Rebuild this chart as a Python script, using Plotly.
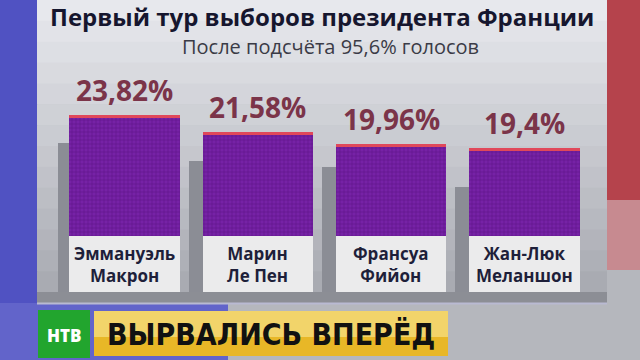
import plotly.graph_objects as go

# ---- data ----
candidates = ["Эммануэль<br>Макрон", "Марин<br>Ле Пен", "Франсуа<br>Фийон", "Жан-Люк<br>Меланшон"]
percent = [23.82, 21.58, 19.96, 19.4]
shadow_values = [20.1, 17.6, 16.8, 14.1]
title_text = "Первый тур выборов президента Франции"
subtitle_text = "После подсчёта 95,6% голосов"
banner_text = "ВЫРВАЛИСЬ ВПЕРЁД"
logo_text = "НТВ"

# ---- layout constants ----
W_FIG, H_FIG = 640, 360
L, R, T, B = 58, 591, 70, 292
PW, PH = R - L, B - T
Y_MAX = 29.9
LABEL_BOX = 7.5
RED_TOP = 0.42
BAR_W = 0.83
SHADOW_SHIFT = 0.105
FONT = "Open Sans"


def fx(x):
    return (x - L) / PW


def fy(y):
    return (B - y) / PH


def rect(x0, y0, x1, y1, color):
    return dict(type="rect", xref="paper", yref="paper",
                x0=fx(x0), x1=fx(x1), y0=fy(y1), y1=fy(y0),
                fillcolor=color, line=dict(width=0), layer="below")


def lerp(c1, c2, t):
    a = [int(c1[i:i + 2], 16) for i in (1, 3, 5)]
    b = [int(c2[i:i + 2], 16) for i in (1, 3, 5)]
    return "#" + "".join(f"{round(a[k] + (b[k] - a[k]) * t):02x}" for k in range(3))


shapes = []
# blurred flag background
shapes.append(rect(0, 0, 38, 305, "#5052c2"))
shapes.append(rect(0, 303, 228, 360, "#6264ca"))
shapes.append(rect(607, 0, 640, 200, "#b5434c"))
shapes.append(rect(607, 200, 640, 270, "#c78a90"))
# panel gradient
n = 14
for i in range(n):
    y0 = 292 * i / n
    y1 = 292 * (i + 1) / n
    shapes.append(rect(37, y0, 607, y1 + 0.5, lerp("#e7e8ed", "#a9abb2", i / (n - 1))))
shapes.append(rect(37, 292, 607, 303, "#8c8e95"))
shapes.append(rect(37, 302.5, 607, 304.5, "#b9bad2"))
# logo and banner
shapes.append(rect(38, 310, 90, 358, "#22a52e"))
shapes.append(rect(94, 311, 448, 356, "#f2d46a"))
shapes.append(rect(94, 337, 448, 356, "#e8b727"))

fig = go.Figure()

fig.add_trace(go.Bar(
    x=candidates, y=shadow_values, width=BAR_W, offset=-BAR_W / 2 - SHADOW_SHIFT,
    marker=dict(color="#8b8d95", line=dict(width=0)), hoverinfo="skip", showlegend=False))

fig.add_trace(go.Bar(
    x=candidates, y=percent, width=BAR_W, offset=-BAR_W / 2,
    marker=dict(color="#7421a4", line=dict(width=0),
                pattern=dict(shape="+", size=4, solidity=0.3, fgcolor="#5d158a",
                             bgcolor="#7622a6", fillmode="replace")),
    hoverinfo="skip", showlegend=False))

fig.add_trace(go.Bar(
    x=candidates, y=[RED_TOP] * len(percent), base=[v - RED_TOP for v in percent],
    width=BAR_W, offset=-BAR_W / 2,
    marker=dict(color="#e0485a", line=dict(width=0)), hoverinfo="skip", showlegend=False))

fig.add_trace(go.Bar(
    x=candidates, y=[LABEL_BOX] * len(percent), width=BAR_W, offset=-BAR_W / 2,
    marker=dict(color="#ebebec", line=dict(width=0)), hoverinfo="skip", showlegend=False))

annotations = []
for c, v in zip(candidates, percent):
    annotations.append(dict(
        x=c, y=v, xref="x", yref="y", text=str(v).replace(".", ",") + "%",
        showarrow=False, yanchor="bottom", yshift=4,
        font=dict(family=FONT, size=28, weight=700, color="#7b3449")))
    annotations.append(dict(
        x=c, y=LABEL_BOX / 2, xref="x", yref="y", text=c,
        showarrow=False, yanchor="middle",
        font=dict(family=FONT, size=17, weight=700, color="#1e1f3a")))

annotations.append(dict(
    x=fx(322), y=fy(16), xref="paper", yref="paper", text=title_text, showarrow=False,
    xanchor="center", yanchor="middle",
    font=dict(family=FONT, size=24, weight=700, color="#16162e")))
annotations.append(dict(
    x=fx(330), y=fy(47), xref="paper", yref="paper", text=subtitle_text, showarrow=False,
    xanchor="center", yanchor="middle",
    font=dict(family=FONT, size=20, color="#3a3b46")))
annotations.append(dict(
    x=fx(271), y=fy(334), xref="paper", yref="paper", text=banner_text, showarrow=False,
    xanchor="center", yanchor="middle",
    font=dict(family="DejaVu Sans Condensed, Liberation Sans Narrow, Roboto", size=30,
              weight=700, color="#111111")))
annotations.append(dict(
    x=fx(64), y=fy(335), xref="paper", yref="paper", text=logo_text, showarrow=False,
    xanchor="center", yanchor="middle",
    font=dict(family=FONT, size=17, weight=800, color="#ffffff")))

fig.update_layout(
    width=W_FIG, height=H_FIG,
    margin=dict(l=L, r=W_FIG - R, t=T, b=H_FIG - B, pad=0),
    paper_bgcolor="#b5b7bd", plot_bgcolor="rgba(0,0,0,0)",
    barmode="overlay", bargap=0,
    xaxis=dict(visible=False, range=[-0.5, len(candidates) - 0.5], fixedrange=True),
    yaxis=dict(visible=False, range=[0, Y_MAX], fixedrange=True),
    shapes=shapes, annotations=annotations, showlegend=False,
)

fig.write_html("out.html", config={"displayModeBar": False},
               post_script="document.body.style.margin='0';document.body.style.overflow='hidden';")
